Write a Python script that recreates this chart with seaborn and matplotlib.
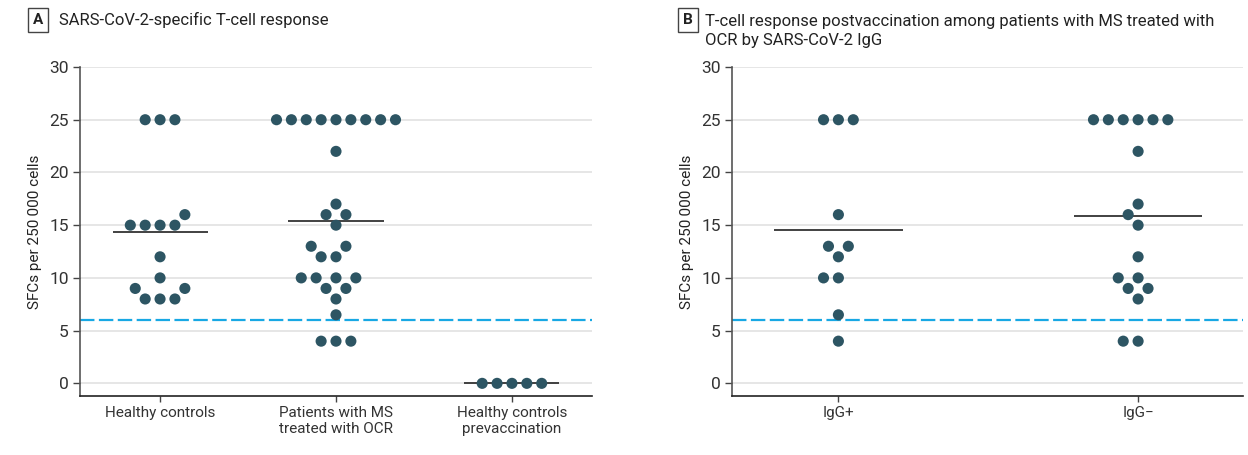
import pandas as pd
import numpy as np
import matplotlib.pyplot as plt
import seaborn as sns

# SFCs per 250 000 cells
healthy = [25, 25, 25, 16, 15, 15, 15, 15, 12, 10, 9, 9, 8, 8, 8]
ms_ocr = [25, 25, 25, 25, 25, 25, 25, 25, 25, 22, 17, 16, 16, 15, 13, 13,
          12, 12, 10, 10, 10, 10, 9, 9, 8, 6.5, 4, 4, 4]
healthy_prevac = [0, 0, 0, 0, 0]
igg_pos = [25, 25, 25, 16, 13, 13, 12, 10, 10, 6.5, 4]
igg_neg = [25, 25, 25, 25, 25, 25, 22, 17, 16, 15, 12, 10, 10, 9, 9, 8, 4, 4]

labels_a = ['Healthy controls', 'Patients with MS\ntreated with OCR',
            'Healthy controls\nprevaccination']
labels_b = ['IgG+', 'IgG\u2212']
threshold = 6
yticks = [0, 5, 10, 15, 20, 25, 30]

df_a = pd.DataFrame({
    'group': [labels_a[0]] * len(healthy) + [labels_a[1]] * len(ms_ocr)
             + [labels_a[2]] * len(healthy_prevac),
    'sfc': healthy + ms_ocr + healthy_prevac,
})
df_b = pd.DataFrame({
    'group': [labels_b[0]] * len(igg_pos) + [labels_b[1]] * len(igg_neg),
    'sfc': igg_pos + igg_neg,
})

sns.set_theme(style='white')
plt.rcParams['font.family'] = ['Roboto', 'DejaVu Sans']
plt.rcParams['text.color'] = '#222222'

dot = '#2d5563'
fig = plt.figure(figsize=(12.48, 4.55), dpi=100)
ax_a = fig.add_axes([80 / 1248, 1 - 396 / 455, 512 / 1248, 329 / 455])
ax_b = fig.add_axes([732 / 1248, 1 - 396 / 455, 511 / 1248, 329 / 455])


def draw_panel(ax, df, order, half, xlim):
    for i, g in enumerate(order):
        m = df.loc[df.group == g, 'sfc'].mean()
        ax.hlines(m, i - half, i + half, color='#333333', lw=1.3, zorder=2)
    # invisible edge widens the swarm spacing a little
    sns.swarmplot(data=df, x='group', y='sfc', order=order, color=dot,
                  size=8, linewidth=2.2, edgecolor='none', ax=ax, zorder=3)
    ax.axhline(threshold, color='#18a8e4', lw=1.6, dashes=(6.5, 2), zorder=1)
    ax.set_ylim(-1.2, 30)
    ax.set_xlim(*xlim)
    ax.set_yticks(yticks)
    ax.yaxis.grid(True, color='#e2e2e2', lw=1.2, zorder=0)
    ax.set_axisbelow(True)
    ax.set_xlabel('')
    ax.set_ylabel('SFCs per 250\u2009000 cells', fontsize=11, labelpad=5,
                  color='#222222')
    ax.tick_params(axis='y', left=True, length=5, width=1, color='#444444',
                   labelsize=12.5, pad=3, labelcolor='#333333')
    ax.tick_params(axis='x', bottom=True, length=4, width=1, color='#444444',
                   labelsize=11, pad=3, labelcolor='#333333')
    for side in ('top', 'right'):
        ax.spines[side].set_visible(False)
    ax.spines['left'].set_color('#555555')
    ax.spines['left'].set_bounds(-1.2, 30)
    ax.spines['bottom'].set_color('#222222')
    ax.spines['left'].set_linewidth(1.2)
    ax.spines['bottom'].set_linewidth(1.2)


draw_panel(ax_a, df_a, labels_a, 0.27, (-0.455, 2.455))
draw_panel(ax_b, df_b, labels_b, 0.214, (-0.355, 1.35))

box = dict(boxstyle='square,pad=0.3', fc='white', ec='#444444', lw=1)
fig.text(38 / 1248, 1 - 20 / 455, 'A', ha='center', va='center',
         fontsize=11, fontweight='bold', bbox=box)
fig.text(59 / 1248, 1 - 20 / 455, 'SARS-CoV-2-specific T-cell response',
         ha='left', va='center', fontsize=12)
fig.text(688 / 1248, 1 - 20 / 455, 'B', ha='center', va='center',
         fontsize=11, fontweight='bold', bbox=box)
fig.text(705 / 1248, 1 - 31 / 455,
         'T-cell response postvaccination among patients with MS treated with\n'
         'OCR by SARS-CoV-2 IgG',
         ha='left', va='center', fontsize=12, linespacing=1.3)

fig.savefig('out.png', dpi=100)
